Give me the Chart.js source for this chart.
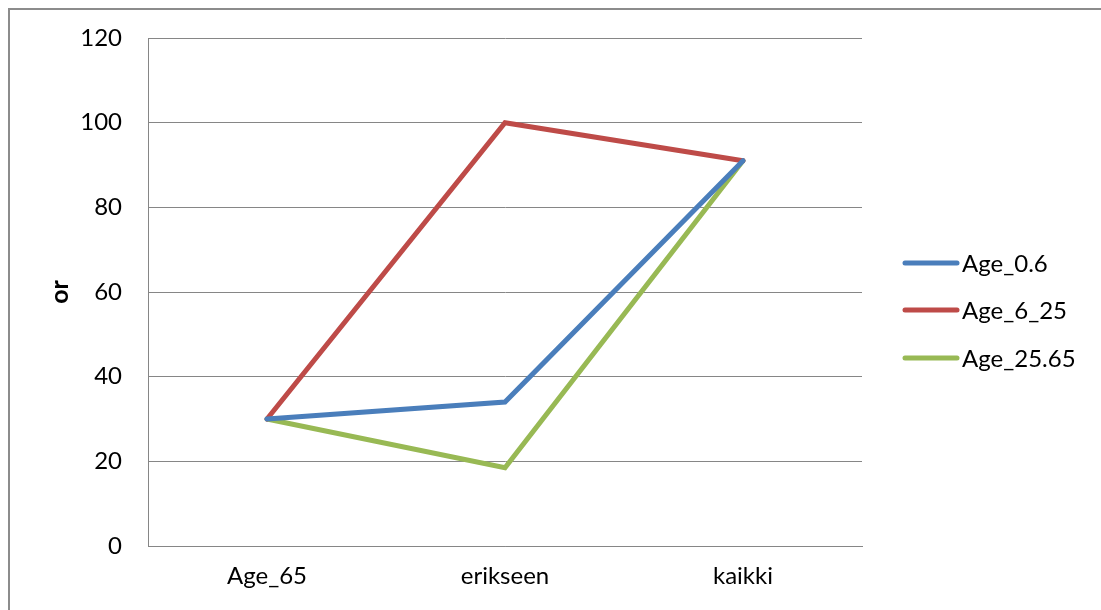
<!DOCTYPE html>
<html>
<head>
<meta charset="utf-8">
<script src="https://cdn.jsdelivr.net/npm/chart.js@4/dist/chart.umd.min.js"></script>
<style>
  html, body { margin: 0; padding: 0; background: #fff; }
  #wrap { position: relative; width: 1101px; height: 610px; overflow: hidden; }
  #frame { position: absolute; left: 8px; top: 8px; width: 1200px; height: 700px;
           border-left: 2px solid #8c8c8c; border-top: 2px solid #8c8c8c; box-sizing: border-box; }
  canvas { position: absolute; left: 0; top: 0; }
</style>
</head>
<body>
<div id="wrap">
  <div id="frame"></div>
  <canvas id="chart" width="1101" height="610"></canvas>
</div>
<script>
const categories = ["Age_65", "erikseen", "kaikki"];
const age06 = [30, 34, 91];
const age625 = [30, 100, 91];
const age2565 = [30, 18.5, 91];
const yTicks = [0, 20, 40, 60, 80, 100, 120];

const FONT = "Lato, 'Open Sans', sans-serif";
const GRID = "#868686";

// legend on the right: short thick line + label per series
const sideLegend = {
  id: "sideLegend",
  afterDraw(chart) {
    const ctx = chart.ctx;
    const x0 = 905, x1 = 957, tx = 962;
    const rows = [263, 310, 358];
    ctx.save();
    ctx.font = "24px " + FONT;
    ctx.textBaseline = "middle";
    chart.data.datasets.forEach((ds, i) => {
      ctx.strokeStyle = ds.borderColor;
      ctx.lineWidth = 5;
      ctx.lineCap = "round";
      ctx.beginPath();
      ctx.moveTo(x0, rows[i]);
      ctx.lineTo(x1, rows[i]);
      ctx.stroke();
      ctx.fillStyle = "#000";
      ctx.fillText(ds.label, tx, rows[i] + 1);
    });
    ctx.restore();
  }
};

new Chart(document.getElementById("chart"), {
  type: "line",
  data: {
    labels: categories,
    datasets: [
      { label: "Age_0.6", data: age06, borderColor: "#4a7ebb" },
      { label: "Age_6_25", data: age625, borderColor: "#be4b48" },
      { label: "Age_25.65", data: age2565, borderColor: "#98b954" }
    ]
  },
  options: {
    responsive: false,
    animation: false,
    layout: { padding: { top: 38, right: 239, left: 0, bottom: 0 } },
    elements: {
      line: { borderWidth: 5, tension: 0, borderCapStyle: "round", borderJoinStyle: "miter" },
      point: { radius: 0 }
    },
    plugins: { legend: { display: false }, tooltip: { enabled: false } },
    scales: {
      x: {
        offset: true,
        afterFit: s => { s.height = 64; s.paddingLeft = 0; s.paddingRight = 0; },
        grid: { display: false, drawTicks: false },
        border: { color: GRID, width: 1 },
        ticks: { color: "#000", font: { family: FONT, size: 24 }, padding: 16, maxRotation: 0 }
      },
      y: {
        min: 0,
        max: 120,
        afterFit: s => { s.width = 148; s.paddingTop = 0; s.paddingBottom = 0; },
        afterBuildTicks: s => { s.ticks = yTicks.map(v => ({ value: v })); },
        grid: { color: GRID, lineWidth: 1, drawTicks: false },
        border: { color: GRID, width: 1 },
        ticks: { color: "#000", font: { family: FONT, size: 24 }, padding: 26 },
        title: {
          display: true,
          text: "or",
          color: "#000",
          font: { family: FONT, size: 25, weight: "bold" },
          padding: { top: 45, bottom: 0 }
        }
      }
    }
  },
  plugins: [sideLegend]
});
</script>
</body>
</html>
